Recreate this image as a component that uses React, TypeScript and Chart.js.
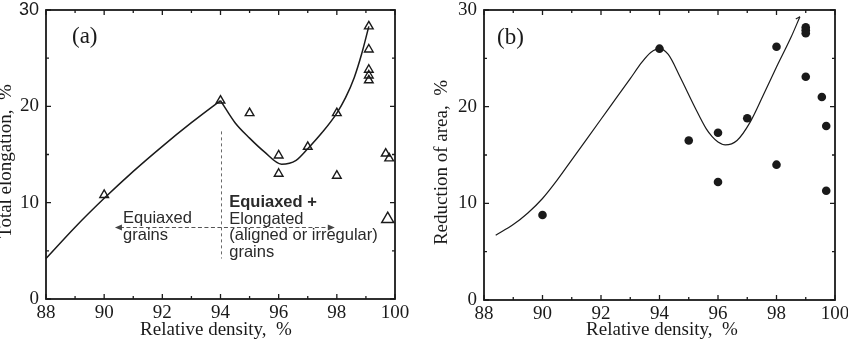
import { useEffect, useRef } from "react";
import { Chart, registerables } from "chart.js";

Chart.register(...registerables);

// Shared axes: relative density (%) vs. percentage
const densityMin = 88;
const densityMax = 100;
const percentMin = 0;
const percentMax = 30;

// (a) Total elongation — open triangles
const elongDensity = [90, 94, 95, 96, 96, 97, 98, 98, 99.1, 99.1, 99.1, 99.1, 99.1, 99.68, 99.8, 99.75];
const elongValue = [10.8, 20.6, 19.3, 14.9, 13.0, 15.8, 19.3, 12.8, 28.3, 25.9, 23.8, 23.2, 22.7, 15.1, 14.6, 8.3];
const elongMarker = [5, 5, 5, 5, 5, 5, 5, 5, 5, 5, 5, 5, 5, 5, 5, 7];

// (a) trend: rising branch up to 94 %, then dip and steep rise
const elongFitLowDensity = [88, 89, 90, 91, 92, 93, 94];
const elongFitLowValue = [4.2, 7.45, 10.45, 13.25, 15.85, 18.3, 20.6];
const elongFitHighDensity = [94, 94.5, 95, 95.5, 96.1, 96.6, 97, 97.5, 98, 98.3, 98.6, 98.85, 99.1];
const elongFitHighValue = [20.6, 18.3, 16.7, 15.3, 14.0, 14.4, 15.6, 17.3, 19.3, 20.9, 23.0, 25.4, 28.3];

// (b) Reduction of area — filled circles
const areaDensity = [90, 94, 95, 96, 96, 97, 98, 98, 99, 99, 99, 99, 99.55, 99.7, 99.7];
const areaValue = [8.8, 26.0, 16.5, 17.3, 12.2, 18.8, 26.2, 14.0, 28.2, 27.9, 27.6, 23.1, 21.0, 18.0, 11.3];

// (b) trend curve, plus the short hook at its upper end
const areaFitDensity = [88.4, 89.0, 89.5, 90.0, 90.5, 91.0, 91.5, 92.0, 92.5, 93.0, 93.4, 93.7, 94.0, 94.3, 94.7, 95.2, 95.6, 95.8, 96.0, 96.25, 96.65, 97.1, 97.55, 98.0, 98.5, 98.8];
const areaFitValue = [6.7, 7.8, 9.0, 10.5, 12.4, 14.5, 16.6, 18.7, 20.8, 22.9, 24.6, 25.6, 26.0, 25.4, 23.1, 20.0, 17.7, 16.9, 16.35, 16.05, 16.5, 18.4, 21.2, 24.1, 27.2, 29.3];
const areaHookDensity = [98.8, 98.66];
const areaHookValue = [29.3, 29.06];

// Annotation anchors for panel (a), in data units
const dividerDensity = 94;
const dividerSpan = [17.4, 4.2];
const arrowSpan = [90.37, 97.93];
const arrowLevel = 7.5;
const leftNoteAt = [90.65, 7.84];
const rightNoteAt = [94.3, 9.5];
const leftNote = ["Equiaxed", "grains"];
const rightNote = ["Equiaxed +", "Elongated", "(aligned or irregular)", "grains"];

const xTitle = "Relative density,  %";
const SERIF = '"Liberation Serif", "Times New Roman", serif';
const SANS = '"Liberation Sans", Arial, sans-serif';
const INK = "#1a1a1a";

const pts = (xs: number[], ys: number[]) => xs.map((x, i) => ({ x, y: ys[i] }));

// Frame, inward tick marks, panel tag and axis titles
const panelPlugin = {
  id: "panel",
  afterDatasetsDraw(chart: any, _args: any, opts: any) {
    const { ctx, chartArea: a, scales } = chart;
    const xs = scales.x;
    const ys = scales.y;
    ctx.save();
    ctx.strokeStyle = INK;
    ctx.lineWidth = 1.8;
    ctx.strokeRect(a.left, a.top, a.right - a.left, a.bottom - a.top);
    ctx.lineWidth = 1.3;
    ctx.beginPath();
    xs.ticks.forEach((t: any) => {
      const px = xs.getPixelForValue(t.value);
      const len = t.value % 2 === 0 ? 5 : 3;
      ctx.moveTo(px, a.bottom);
      ctx.lineTo(px, a.bottom - len);
      ctx.moveTo(px, a.top);
      ctx.lineTo(px, a.top + len);
    });
    ys.ticks.forEach((t: any) => {
      const py = ys.getPixelForValue(t.value);
      const len = t.value % 10 === 0 ? 5 : 3;
      ctx.moveTo(a.left, py);
      ctx.lineTo(a.left + len, py);
      ctx.moveTo(a.right, py);
      ctx.lineTo(a.right - len, py);
    });
    ctx.stroke();

    ctx.fillStyle = INK;
    ctx.font = `23px ${SERIF}`;
    ctx.textAlign = "left";
    ctx.textBaseline = "middle";
    ctx.fillText(opts.tag, a.left + opts.tagDx, a.top + opts.tagDy);

    ctx.font = `19px ${SERIF}`;
    ctx.textAlign = "center";
    ctx.textBaseline = "alphabetic";
    ctx.fillText(xTitle, (a.left + a.right) / 2 + opts.xTitleDx, opts.xTitleBaseline);
    ctx.translate(opts.yTitleBaseline, (a.top + a.bottom) / 2 + opts.yTitleDy);
    ctx.rotate(-Math.PI / 2);
    ctx.fillText(opts.yTitle, 0, 0);
    ctx.restore();
  },
};

// Grain-structure annotations on panel (a)
const notesPlugin = {
  id: "notes",
  afterDatasetsDraw(chart: any, _args: any, opts: any) {
    if (!opts || !opts.enabled) return;
    const { ctx, scales } = chart;
    const xs = scales.x;
    const ys = scales.y;
    ctx.save();
    // vertical divider at 94 %
    const dx = Math.round(xs.getPixelForValue(dividerDensity)) + 0.5;
    ctx.strokeStyle = "#6a6a6a";
    ctx.lineWidth = 1;
    ctx.setLineDash([3, 3]);
    ctx.beginPath();
    ctx.moveTo(dx, ys.getPixelForValue(dividerSpan[0]));
    ctx.lineTo(dx, ys.getPixelForValue(dividerSpan[1]));
    ctx.stroke();
    // double-headed dashed arrow
    const ay = Math.round(ys.getPixelForValue(arrowLevel)) + 0.5;
    const x0 = xs.getPixelForValue(arrowSpan[0]);
    const x1 = xs.getPixelForValue(arrowSpan[1]);
    ctx.strokeStyle = "#555";
    ctx.lineWidth = 1.2;
    ctx.setLineDash([4, 2.5]);
    ctx.beginPath();
    ctx.moveTo(x0 + 5, ay);
    ctx.lineTo(x1 - 5, ay);
    ctx.stroke();
    ctx.setLineDash([]);
    ctx.fillStyle = "#444";
    ctx.beginPath();
    ctx.moveTo(x0, ay);
    ctx.lineTo(x0 + 7, ay - 3);
    ctx.lineTo(x0 + 7, ay + 3);
    ctx.closePath();
    ctx.moveTo(x1, ay);
    ctx.lineTo(x1 - 7, ay - 3);
    ctx.lineTo(x1 - 7, ay + 3);
    ctx.closePath();
    ctx.fill();
    // labels
    ctx.fillStyle = "#2a2a2a";
    ctx.textAlign = "left";
    ctx.textBaseline = "alphabetic";
    const lh = 16.5;
    const lx = xs.getPixelForValue(leftNoteAt[0]);
    const ly = ys.getPixelForValue(leftNoteAt[1]);
    ctx.font = `16.5px ${SANS}`;
    leftNote.forEach((s, i) => ctx.fillText(s, lx, ly + i * lh));
    const rx = xs.getPixelForValue(rightNoteAt[0]);
    const ry = ys.getPixelForValue(rightNoteAt[1]);
    rightNote.forEach((s, i) => {
      ctx.font = i === 0 ? `bold 16.5px ${SANS}` : `16.5px ${SANS}`;
      ctx.fillText(s, rx, ry + i * lh);
    });
    ctx.restore();
  },
};

function makeScales(yWidth: number, xHeight: number, sansTop: boolean) {
  return {
    x: {
      type: "linear",
      min: densityMin,
      max: densityMax,
      grid: { display: false, drawTicks: false },
      border: { display: false },
      ticks: {
        stepSize: 1,
        autoSkip: false,
        maxRotation: 0,
        padding: 3,
        color: INK,
        font: { family: SERIF, size: 19 },
        callback: (v: any) => (Number(v) % 2 === 0 ? String(v) : ""),
      },
      afterFit: (s: any) => {
        s.height = xHeight;
        s.paddingLeft = 0;
        s.paddingRight = 0;
      },
    },
    y: {
      type: "linear",
      min: percentMin,
      max: percentMax,
      grid: { display: false, drawTicks: false },
      border: { display: false },
      ticks: {
        stepSize: 5,
        autoSkip: false,
        padding: 7,
        color: INK,
        font: (c: any) =>
          sansTop && c.tick && c.tick.value === percentMax
            ? { family: SANS, size: 18 }
            : { family: SERIF, size: 19 },
        callback: (v: any) => (Number(v) % 10 === 0 ? String(v) : ""),
      },
      afterFit: (s: any) => {
        s.width = yWidth;
        s.paddingTop = 0;
        s.paddingBottom = 0;
      },
    },
  };
}

const curve = (data: { x: number; y: number }[], width: number) => ({
  data,
  showLine: true,
  pointRadius: 0,
  borderColor: INK,
  borderWidth: width,
  tension: 0.4,
  cubicInterpolationMode: "monotone",
});

function ElongationPanel() {
  const ref = useRef<HTMLCanvasElement | null>(null);
  useEffect(() => {
    if (!ref.current) return;
    const chart = new Chart(ref.current, {
      type: "scatter",
      data: {
        datasets: [
          {
            data: pts(elongDensity, elongValue),
            pointStyle: "triangle",
            pointRadius: elongMarker,
            pointBorderColor: INK,
            pointBackgroundColor: "rgba(255,255,255,0)",
            pointBorderWidth: 1.4,
            showLine: false,
          },
          curve(pts(elongFitLowDensity, elongFitLowValue), 1.5),
          curve(pts(elongFitHighDensity, elongFitHighValue), 1.5),
        ],
      } as any,
      options: {
        responsive: false,
        animation: false,
        events: [],
        clip: false,
        layout: { padding: { left: 0, top: 10, right: 29, bottom: 0 } },
        scales: makeScales(46, 43, true) as any,
        plugins: {
          legend: { display: false },
          tooltip: { enabled: false },
          panel: {
            tag: "(a)",
            tagDx: 26,
            tagDy: 27,
            xTitleDx: -4.5,
            xTitleBaseline: 335,
            yTitle: "Total elongation,  %",
            yTitleBaseline: 11,
            yTitleDy: 6.5,
          },
          notes: { enabled: true },
        } as any,
      },
      plugins: [panelPlugin, notesPlugin],
    });
    return () => chart.destroy();
  }, []);
  return <canvas ref={ref} width={424} height={342} style={{ display: "block" }} />;
}

function AreaPanel() {
  const ref = useRef<HTMLCanvasElement | null>(null);
  useEffect(() => {
    if (!ref.current) return;
    const chart = new Chart(ref.current, {
      type: "scatter",
      data: {
        datasets: [
          {
            data: pts(areaDensity, areaValue),
            pointStyle: "circle",
            pointRadius: 4.3,
            pointBorderColor: INK,
            pointBackgroundColor: INK,
            pointBorderWidth: 0,
            showLine: false,
          },
          curve(pts(areaFitDensity, areaFitValue), 1.2),
          { ...curve(pts(areaHookDensity, areaHookValue), 1.2), tension: 0, cubicInterpolationMode: "default" },
        ],
      } as any,
      options: {
        responsive: false,
        animation: false,
        events: [],
        clip: false,
        layout: { padding: { left: 0, top: 10, right: 13, bottom: 0 } },
        scales: makeScales(60, 42, false) as any,
        plugins: {
          legend: { display: false },
          tooltip: { enabled: false },
          panel: {
            tag: "(b)",
            tagDx: 13,
            tagDy: 28,
            xTitleDx: 2.5,
            xTitleBaseline: 335,
            yTitle: "Reduction of area,  %",
            yTitleBaseline: 22.5,
            yTitleDy: 7.5,
          },
        } as any,
      },
      plugins: [panelPlugin],
    });
    return () => chart.destroy();
  }, []);
  return <canvas ref={ref} width={424} height={342} style={{ display: "block" }} />;
}

export default function App() {
  useEffect(() => {
    document.body.style.margin = "0";
    document.body.style.background = "#ffffff";
  }, []);
  return (
    <div style={{ display: "flex", width: 848, height: 342, background: "#fff", overflow: "hidden" }}>
      <ElongationPanel />
      <AreaPanel />
    </div>
  );
}
